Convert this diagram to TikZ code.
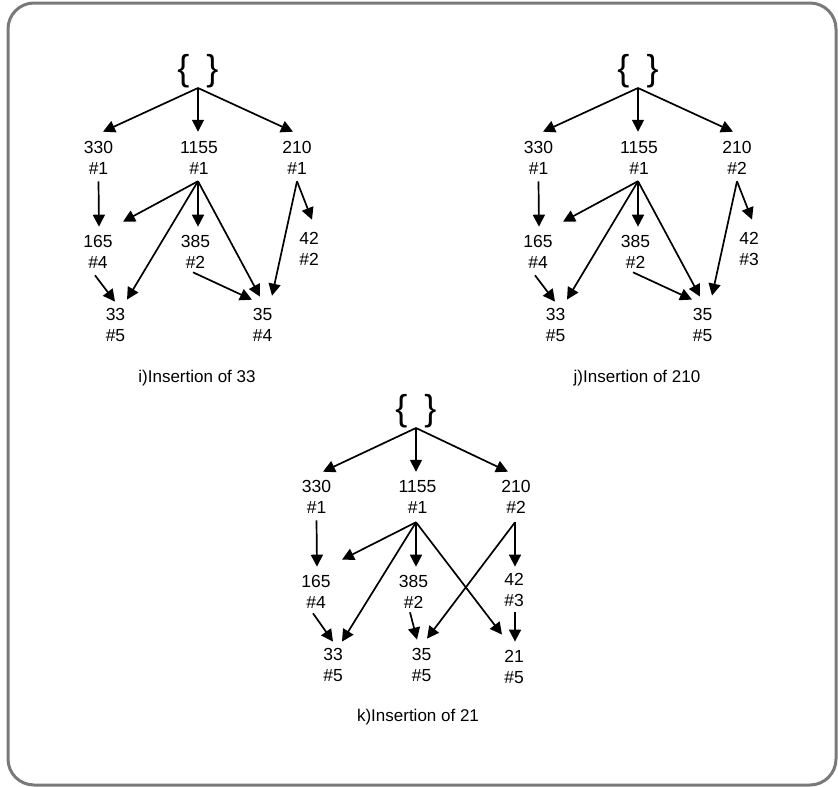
\documentclass[tikz,border=0pt]{standalone}
\usepackage{fontspec}
\setmainfont{Liberation Sans}
\usetikzlibrary{arrows.meta}
\begin{document}
\begin{tikzpicture}[x=1pt,y=-1pt,
  lbl/.style={inner sep=0pt,align=center,font=\fontsize{17.5}{21}\selectfont},
  captxt/.style={inner sep=0pt,font=\fontsize{17}{21}\selectfont},
  rootn/.style={inner sep=0pt,anchor=south,font=\fontsize{36}{36}\selectfont},
  arr/.style={line width=1.7pt,-{Triangle[length=12pt,width=12pt]}},
  framebox/.style={draw=gray!95!black,line width=3pt,rounded corners=26pt}]
\useasboundingbox (0,0) rectangle (838,787);
\draw[framebox] (8,3) rectangle (836,785);

% ---------- panel i ----------
\node[rootn] (iR) at (198,88) {\{\hspace{17pt}\}};
\node[lbl] (i330) at (98.5,157.5) {330\\\#1};
\node[lbl] (i1155) at (199,157.5) {1155\\\#1};
\node[lbl] (i210) at (297,157.5) {210\\\#1};
\node[lbl] (i165) at (98,252) {165\\\#4};
\node[lbl] (i385) at (195.5,252) {385\\\#2};
\node[lbl] (i42) at (309,249) {42\\\#2};
\node[lbl] (i33) at (115.5,325) {33\\\#5};
\node[lbl] (i35) at (262.5,325) {35\\\#4};
\node[captxt] (icap) at (197,378) {i)Insertion of 33};

\draw[arr] (iR.south) -- ([xshift=4.5pt,yshift=9pt]i330.north);
\draw[arr] (iR.south) -- ([xshift=-1pt,yshift=9pt]i1155.north);
\draw[arr] (iR.south) -- ([xshift=-4pt,yshift=9pt]i210.north);
\draw[arr] ([yshift=-7pt]i330.south) -- ([xshift=1pt,yshift=8.5pt]i165.north);
\draw[arr] ([xshift=-1pt,yshift=-7pt]i1155.south) -- ([xshift=25pt,yshift=13.5pt]i165.north);
\draw[arr] ([xshift=-1pt,yshift=-7pt]i1155.south) -- ([xshift=2.5pt,yshift=8.5pt]i385.north);
\draw[arr] ([xshift=-1pt,yshift=-7pt]i1155.south) -- ([xshift=11.5pt,yshift=8.5pt]i33.north);
\draw[arr] ([xshift=-1pt,yshift=-7pt]i1155.south) -- ([xshift=-2.5pt,yshift=11.5pt]i35.north);
\draw[arr] ([yshift=-7pt]i210.south) -- ([xshift=3pt,yshift=12.5pt]i42.north);
\draw[arr] ([yshift=-7pt]i210.south) -- ([xshift=9.5pt,yshift=12.5pt]i35.north);
\draw[arr] ([xshift=-3pt,yshift=-6.5pt]i165.south) -- ([xshift=-0.5pt,yshift=6.5pt]i33.north);
\draw[arr] ([xshift=-2.5pt,yshift=-3.5pt]i385.south) -- ([xshift=-10.5pt,yshift=8.5pt]i35.north);

% ---------- panel j ----------
\node[rootn] (jR) at (638,88) {\{\hspace{17pt}\}};
\node[lbl] (j330) at (538.5,157.5) {330\\\#1};
\node[lbl] (j1155) at (639,157.5) {1155\\\#1};
\node[lbl] (j210) at (737,157.5) {210\\\#2};
\node[lbl] (j165) at (538,252) {165\\\#4};
\node[lbl] (j385) at (635.5,252) {385\\\#2};
\node[lbl] (j42) at (749,249) {42\\\#3};
\node[lbl] (j33) at (555.5,325) {33\\\#5};
\node[lbl] (j35) at (702.5,325) {35\\\#5};
\node[captxt] (jcap) at (637,378) {j)Insertion of 210};

\draw[arr] (jR.south) -- ([xshift=4.5pt,yshift=9pt]j330.north);
\draw[arr] (jR.south) -- ([xshift=-1pt,yshift=9pt]j1155.north);
\draw[arr] (jR.south) -- ([xshift=-4pt,yshift=9pt]j210.north);
\draw[arr] ([yshift=-7pt]j330.south) -- ([xshift=1pt,yshift=8.5pt]j165.north);
\draw[arr] ([xshift=-1pt,yshift=-7pt]j1155.south) -- ([xshift=25pt,yshift=13.5pt]j165.north);
\draw[arr] ([xshift=-1pt,yshift=-7pt]j1155.south) -- ([xshift=2.5pt,yshift=8.5pt]j385.north);
\draw[arr] ([xshift=-1pt,yshift=-7pt]j1155.south) -- ([xshift=11.5pt,yshift=8.5pt]j33.north);
\draw[arr] ([xshift=-1pt,yshift=-7pt]j1155.south) -- ([xshift=-2.5pt,yshift=11.5pt]j35.north);
\draw[arr] ([yshift=-7pt]j210.south) -- ([xshift=3pt,yshift=12.5pt]j42.north);
\draw[arr] ([yshift=-7pt]j210.south) -- ([xshift=9.5pt,yshift=12.5pt]j35.north);
\draw[arr] ([xshift=-3pt,yshift=-6.5pt]j165.south) -- ([xshift=-0.5pt,yshift=6.5pt]j33.north);
\draw[arr] ([xshift=-2.5pt,yshift=-3.5pt]j385.south) -- ([xshift=-10.5pt,yshift=8.5pt]j35.north);

% ---------- panel k ----------
\node[rootn] (kR) at (416,428) {\{\hspace{17pt}\}};
\node[lbl] (k330) at (316.5,497) {330\\\#1};
\node[lbl] (k1155) at (417.5,497) {1155\\\#1};
\node[lbl] (k210) at (516,497) {210\\\#2};
\node[lbl] (k165) at (316,592) {165\\\#4};
\node[lbl] (k385) at (413.5,592) {385\\\#2};
\node[lbl] (k42) at (514,589.5) {42\\\#3};
\node[lbl] (k33) at (333,665) {33\\\#5};
\node[lbl] (k35) at (421.5,665) {35\\\#5};
\node[lbl] (k21) at (514,666.5) {21\\\#5};
\node[captxt] (kcap) at (418,717) {k)Insertion of 21};

\draw[arr] (kR.south) -- ([xshift=6.5pt,yshift=8.5pt]k330.north);
\draw[arr] (kR.south) -- ([xshift=-1.5pt,yshift=8.5pt]k1155.north);
\draw[arr] (kR.south) -- ([xshift=-8pt,yshift=8.5pt]k210.north);
\draw[arr] ([yshift=-6.5pt]k330.south) -- ([xshift=1pt,yshift=8.5pt]k165.north);
\draw[arr] ([xshift=-1.5pt,yshift=-8.5pt]k1155.south) -- ([xshift=26pt,yshift=15.5pt]k165.north);
\draw[arr] ([xshift=-1.5pt,yshift=-8.5pt]k1155.south) -- ([xshift=2.5pt,yshift=8.5pt]k385.north);
\draw[arr] ([xshift=-1.5pt,yshift=-8.5pt]k1155.south) -- ([xshift=9pt,yshift=6.5pt]k33.north);
\draw[arr] ([xshift=-1.5pt,yshift=-8.5pt]k1155.south) -- ([xshift=-12pt,yshift=15pt]k21.north);
\draw[arr] ([xshift=-1pt,yshift=-8.5pt]k210.south) -- ([xshift=1pt,yshift=6pt]k42.north);
\draw[arr] ([xshift=-1pt,yshift=-8.5pt]k210.south) -- ([xshift=5.5pt,yshift=9.5pt]k35.north);
\draw[arr] ([xshift=1pt,yshift=-6pt]k42.south) -- ([xshift=1pt,yshift=8pt]k21.north);
\draw[arr] ([xshift=-3pt,yshift=-4.5pt]k165.south) -- ([yshift=6.5pt]k33.north);
\draw[arr] ([xshift=-3.5pt,yshift=-3.5pt]k385.south) -- ([xshift=-4.5pt,yshift=8.5pt]k35.north);
\end{tikzpicture}
\end{document}
